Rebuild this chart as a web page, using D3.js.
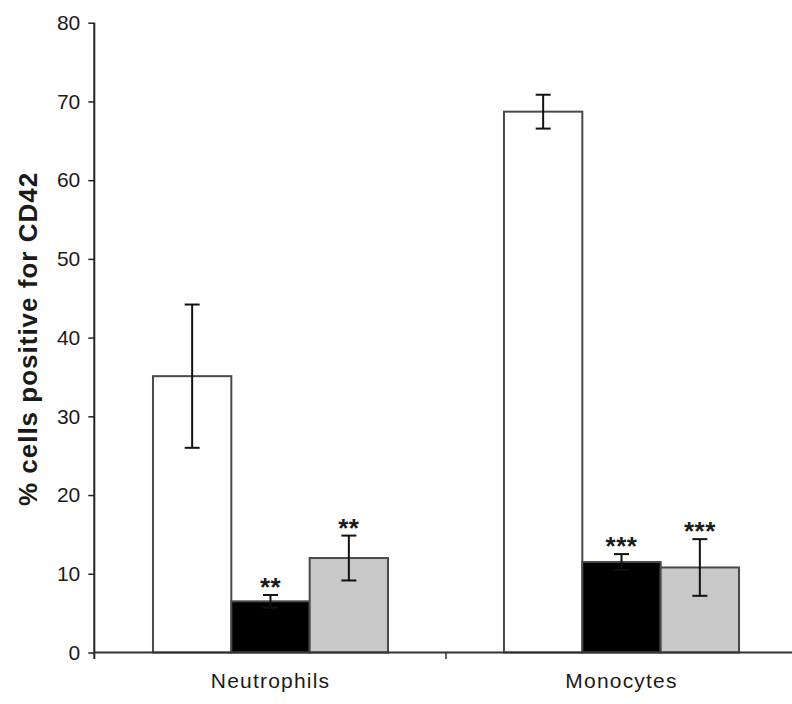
<!DOCTYPE html>
<html>
<head>
<meta charset="utf-8">
<script src="https://cdn.jsdelivr.net/npm/d3@7"></script>
<style>
  body { margin: 0; background: #fff; }
  text { font-family: "Liberation Sans", Arial, sans-serif; fill: #1a1a1a; }
</style>
</head>
<body>
<div id="chart"></div>
<script>
// cell types on the x axis
var categories = ["Neutrophils", "Monocytes"];
// three treatments per cell type (white, black, grey bars)
var series = ["control", "treatA", "treatB"];
var fills = ["#ffffff", "#000000", "#c8c8c8"];

// mean % positive for CD42, per category, in series order
var neutrophilValues = [35.1, 6.5, 12.0];
var monocyteValues = [68.7, 11.5, 10.8];
// error bar half-lengths
var neutrophilErrors = [9.1, 0.8, 2.85];
var monocyteErrors = [2.15, 1.0, 3.6];
// significance marks
var neutrophilStars = ["", "**", "**"];
var monocyteStars = ["", "***", "***"];

var yTicks = [0, 10, 20, 30, 40, 50, 60, 70, 80];

(function(){

  var width = 792;
  var height = 704;

  var svg = d3.select("#chart")
    .append("svg")
    .attr("width", width)
    .attr("height", height)

  var rows = [
    {cat: categories[0], values: neutrophilValues, errs: neutrophilErrors, stars: neutrophilStars},
    {cat: categories[1], values: monocyteValues, errs: monocyteErrors, stars: monocyteStars}
  ]

  var x = d3.scaleBand().domain(categories).range([95, 797])
  var xSub = d3.scaleBand().domain(series).range([0, x.bandwidth()]).paddingOuter(0.74)
  var y = d3.scaleLinear().domain([0, 80]).range([652.5, 22.7])

  //bars
  var groups = svg.selectAll(".group")
    .data(rows)
    .enter().append("g")
    .attr("class", "group")
    .attr("transform", function(d){ return "translate(" + x(d.cat) + ",0)" })

  var items = groups.selectAll(".item")
    .data(function(d){
      return series.map(function(s, i){
        return {s: s, i: i, v: d.values[i], e: d.errs[i], star: d.stars[i]}
      })
    })
    .enter().append("g")
    .attr("class", "item")

  items.append("rect")
    .attr("x", function(d){ return xSub(d.s) })
    .attr("y", function(d){ return y(d.v) })
    .attr("width", xSub.bandwidth())
    .attr("height", function(d){ return y(0) - y(d.v) })
    .attr("fill", function(d){ return fills[d.i] })
    .attr("stroke", "#4a4a4a")
    .attr("stroke-width", 2)

  //error bars
  var cap = 7.5
  items.append("line")
    .attr("x1", function(d){ return xSub(d.s) + xSub.bandwidth() / 2 })
    .attr("x2", function(d){ return xSub(d.s) + xSub.bandwidth() / 2 })
    .attr("y1", function(d){ return y(d.v + d.e) })
    .attr("y2", function(d){ return y(d.v - d.e) })
    .attr("stroke", "#111")
    .attr("stroke-width", 2)

  items.selectAll(".cap")
    .data(function(d){ return [{d: d, v: d.v + d.e}, {d: d, v: d.v - d.e}] })
    .enter().append("line")
    .attr("class", "cap")
    .attr("x1", function(c){ return xSub(c.d.s) + xSub.bandwidth() / 2 - cap })
    .attr("x2", function(c){ return xSub(c.d.s) + xSub.bandwidth() / 2 + cap })
    .attr("y1", function(c){ return y(c.v) })
    .attr("y2", function(c){ return y(c.v) })
    .attr("stroke", "#111")
    .attr("stroke-width", 2)

  //stars above error bars
  items.append("text")
    .attr("x", function(d){ return xSub(d.s) + xSub.bandwidth() / 2 })
    .attr("y", function(d){ return y(d.v + d.e) - 14 + 15 })
    .attr("text-anchor", "middle")
    .attr("font-size", 26)
    .attr("font-weight", "bold")
    .attr("letter-spacing", 0.5)
    .text(function(d){ return d.star })

  //y axis
  var yAxis = svg.append("g")
    .attr("transform", "translate(94.3,0)")
    .call(d3.axisLeft(y).tickValues(yTicks).tickSize(6).tickPadding(8).tickFormat(d3.format("d")))
  yAxis.select(".domain").remove()
  yAxis.selectAll(".tick line").attr("stroke", "#222").attr("stroke-width", 1.5)
  yAxis.selectAll(".tick text")
    .attr("font-size", 21)
    .attr("font-family", "Liberation Sans, Arial, sans-serif")
    .attr("fill", "#1a1a1a")
  yAxis.append("line")
    .attr("x1", 0).attr("x2", 0)
    .attr("y1", y(80)).attr("y2", y(0) + 6.5)
    .attr("stroke", "#222").attr("stroke-width", 2)

  //x axis
  svg.append("line")
    .attr("x1", 94.3).attr("x2", width)
    .attr("y1", y(0)).attr("y2", y(0))
    .attr("stroke", "#333").attr("stroke-width", 2)

  svg.selectAll(".xtick")
    .data(categories.slice(1))
    .enter().append("line")
    .attr("class", "xtick")
    .attr("x1", function(d){ return x(d) }).attr("x2", function(d){ return x(d) })
    .attr("y1", y(0)).attr("y2", y(0) + 6.5)
    .attr("stroke", "#333").attr("stroke-width", 1.5)

  svg.selectAll(".xlabel")
    .data(categories)
    .enter().append("text")
    .attr("class", "xlabel")
    .attr("x", function(d){ return x(d) + x.bandwidth() / 2 })
    .attr("y", 688)
    .attr("text-anchor", "middle")
    .attr("font-size", 21)
    .attr("letter-spacing", 1.2)
    .text(function(d){ return d })

  //y title
  svg.append("text")
    .attr("transform", "translate(37," + (172 + 506) / 2 + ") rotate(-90)")
    .attr("text-anchor", "middle")
    .attr("font-size", 26)
    .attr("font-weight", "bold")
    .attr("letter-spacing", 1)
    .text("% cells positive for CD42")

})();
</script>
</body>
</html>
